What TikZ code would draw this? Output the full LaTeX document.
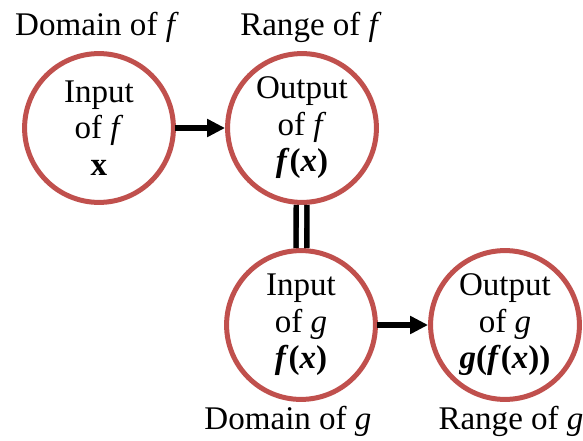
\documentclass[tikz,border=0pt]{standalone}
\usepackage{fontspec}
\setmainfont{Liberation Serif}
\usetikzlibrary{arrows.meta,positioning}
\definecolor{ringred}{RGB}{192,80,77}

\begin{document}
\begin{tikzpicture}[x=0.025cm, y=-0.025cm]
                \tikzstyle{set} = [shape=circle, draw=ringred, line width=0.125cm, minimum size=3.72cm, inner sep=0pt, align=center, font=\fontsize{23.5}{26}\selectfont];
                \tikzstyle{tag} = [anchor=base, inner sep=0pt, font=\fontsize{23.5}{26}\selectfont];
                \tikzstyle{maps} = [-{Triangle[length=0.45cm,width=0.43cm]}, line width=0.15cm, shorten <=-1pt];

                \useasboundingbox (0,0) rectangle (583,440);

                \node[set](FI) at (99,128) {Input\\of \textit{f}\\\textbf{x}};
                \node[set](FO) at (302,128) {Output\\of \textit{f}\\\textbf{\textit{f}(\textit{x})}};
                \node[set](GI) at (301,325) {Input\\of \textit{g}\\\textbf{\textit{f}(\textit{x})}};
                \node[set](GO) at (505,325) {Output\\of \textit{g}\\\textbf{\textit{g}(\textit{f}(\textit{x}))}};

                \node[tag](DF) at (97,36) {Domain of \textit{f}};
                \node[tag](RF) at (311,36) {Range of \textit{f}};
                \node[tag](DG) at (288,429) {Domain of \textit{g}};
                \node[tag](RG) at (511,429) {Range of \textit{g}};

                \draw[maps] (FI) -- (FO);
                \draw[maps] (GI) -- (GO);
                \draw[double, double distance=0.125cm, line width=0.14cm] (FO) -- (GI);
            \end{tikzpicture}
\end{document}
